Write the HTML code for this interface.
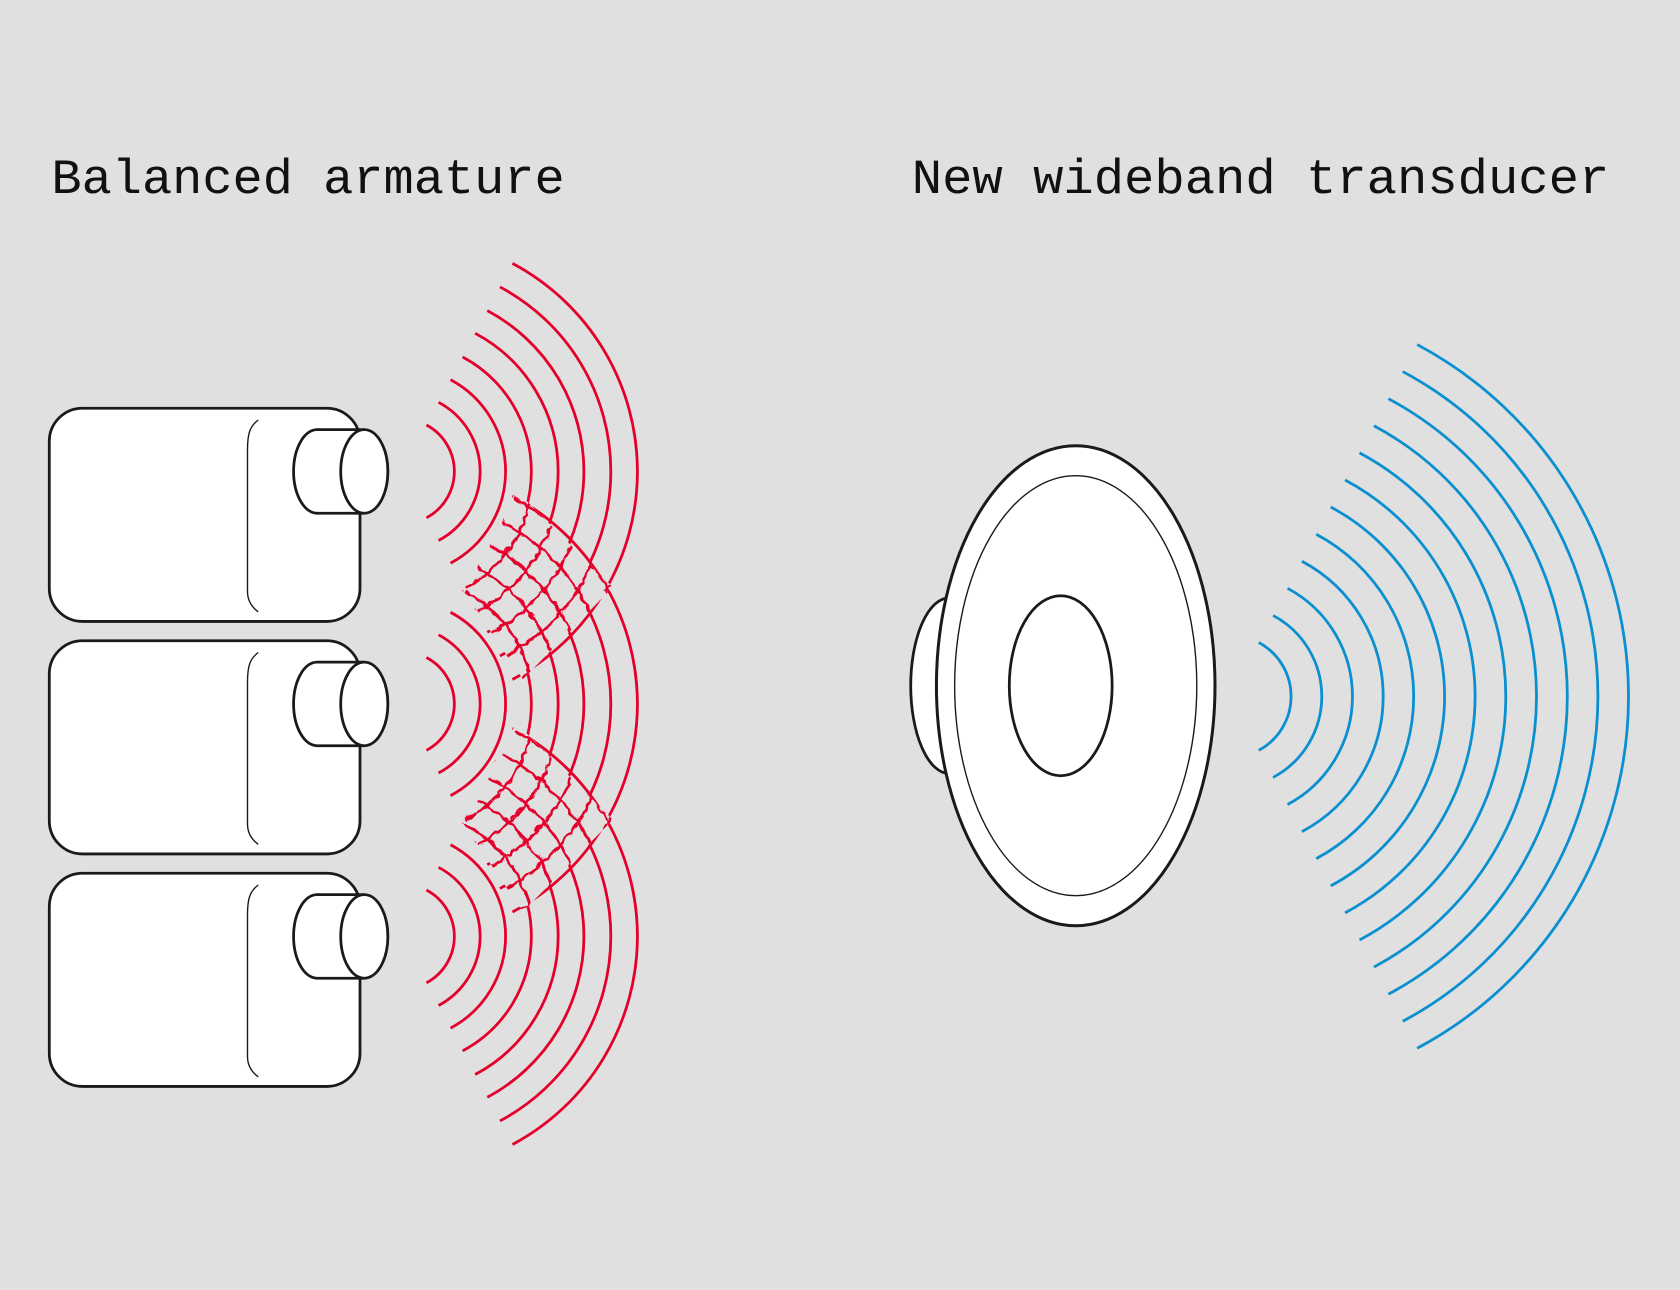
<!DOCTYPE html>
<html><head><meta charset="utf-8"><style>html,body{margin:0;padding:0;background:#e0e0e0}svg{display:block}</style></head>
<body>
<svg width="1680" height="1290" viewBox="0 0 1568 1204" xmlns="http://www.w3.org/2000/svg">
<defs>
<g id="ra" fill="none" stroke="#e4002b" stroke-width="2.6">
<path d="M23,-43.3 A49,49 0 0 1 23,43.3"/>
<path d="M34.3,-64.5 A73,73 0 0 1 34.3,64.5"/>
<path d="M45.5,-85.6 A97,97 0 0 1 45.5,85.6"/>
<path d="M56.8,-106.8 A121,121 0 0 1 56.8,106.8"/>
<path d="M68.5,-128.9 A146,146 0 0 1 68.5,128.9"/>
<path d="M79.8,-150.1 A170,170 0 0 1 79.8,150.1"/>
<path d="M91.6,-172.2 A195,195 0 0 1 91.6,172.2"/>
<path d="M103.3,-194.2 A220,220 0 0 1 103.3,194.2"/>
</g>
<g id="all3">
<use href="#ra" transform="translate(375,440)"/>
<use href="#ra" transform="translate(375,657)"/>
<use href="#ra" transform="translate(375,874)"/>
</g>
<mask id="m"><rect width="1568" height="1204" fill="#fff"/>
<polygon points="430,548 482,458 572,548 488,634" fill="#000"/>
<polygon points="430,765 482,675 572,765 488,851" fill="#000"/></mask>
<clipPath id="c">
<polygon points="430,548 482,458 572,548 488,634"/>
<polygon points="430,765 482,675 572,765 488,851"/></clipPath>
<filter id="w" x="-10%" y="-10%" width="120%" height="120%">
<feTurbulence type="turbulence" baseFrequency="0.09" numOctaves="1" seed="3"/>
<feDisplacementMap in="SourceGraphic" scale="6" xChannelSelector="R" yChannelSelector="G"/>
</filter>
<g id="box">
<rect x="46" y="0" width="290" height="199" rx="31" fill="#fff" stroke="#1a1a1a" stroke-width="2.6"/>
<path d="M241,11 C233,17 231,24 231,39 V171 C231,179 234,185 241,190" fill="none" stroke="#1a1a1a" stroke-width="1.3"/>
<path d="M296,20 H340 V98 H296 Z" fill="#fff"/>
<ellipse cx="296" cy="59" rx="22" ry="39" fill="#fff" stroke="#1a1a1a" stroke-width="2.6"/>
<rect x="296" y="21" width="44" height="76" fill="#fff"/>
<path d="M296,20 H340 M296,98 H340" stroke="#1a1a1a" stroke-width="2.6"/>
<ellipse cx="340" cy="59" rx="22" ry="39" fill="#fff" stroke="#1a1a1a" stroke-width="2.6"/>
</g>
</defs>
<rect width="1568" height="1204" fill="#e0e0e0"/>
<g font-family="'Liberation Mono', monospace" font-size="46" fill="#111">
<text x="48" y="180" textLength="479" lengthAdjust="spacingAndGlyphs">Balanced armature</text>
<text x="851" y="180" textLength="651" lengthAdjust="spacingAndGlyphs">New wideband transducer</text>
</g>
<use href="#box" transform="translate(0,381)"/>
<use href="#box" transform="translate(0,598)"/>
<use href="#box" transform="translate(0,815)"/>
<g mask="url(#m)"><use href="#all3"/></g>
<g clip-path="url(#c)"><g filter="url(#w)"><use href="#all3"/></g></g>
<ellipse cx="886" cy="640" rx="36" ry="82" fill="#fff" stroke="#1a1a1a" stroke-width="2.6"/>
<ellipse cx="1004" cy="640" rx="130" ry="224" fill="#fff" stroke="#1a1a1a" stroke-width="2.8"/>
<ellipse cx="1004" cy="640" rx="113" ry="196" fill="#fff" stroke="#1a1a1a" stroke-width="1.3"/>
<ellipse cx="990" cy="640" rx="48" ry="84" fill="#fff" stroke="#1a1a1a" stroke-width="2.6"/>
<g transform="translate(1148,650)" fill="none" stroke="#0a8fd0" stroke-width="2.6">
<path d="M26.8,-50.3 A57,57 0 0 1 26.8,50.3"/>
<path d="M40.2,-75.6 A85.6,85.6 0 0 1 40.2,75.6"/>
<path d="M53.7,-100.9 A114.3,114.3 0 0 1 53.7,100.9"/>
<path d="M67.1,-126.2 A142.9,142.9 0 0 1 67.1,126.2"/>
<path d="M80.5,-151.4 A171.5,171.5 0 0 1 80.5,151.4"/>
<path d="M94,-176.8 A200.2,200.2 0 0 1 94,176.8"/>
<path d="M107.4,-202 A228.8,228.8 0 0 1 107.4,202"/>
<path d="M120.9,-227.3 A257.5,257.5 0 0 1 120.9,227.3"/>
<path d="M134.3,-252.6 A286.1,286.1 0 0 1 134.3,252.6"/>
<path d="M147.8,-277.9 A314.7,314.7 0 0 1 147.8,277.9"/>
<path d="M161.2,-303.2 A343.4,343.4 0 0 1 161.2,303.2"/>
<path d="M174.7,-328.4 A372,372 0 0 1 174.7,328.4"/>
</g>
</svg>
</body></html>
